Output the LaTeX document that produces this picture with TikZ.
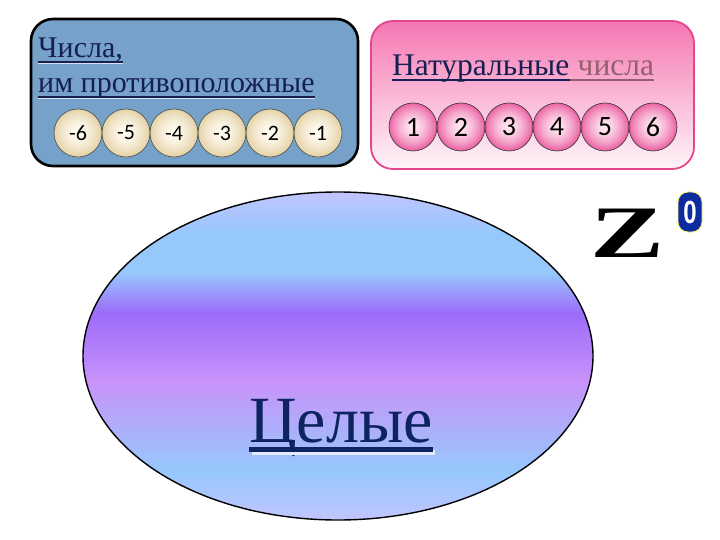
\documentclass[tikz,border=0pt]{standalone}
\usepackage{fontspec}
\setmainfont{Liberation Serif}
\newfontfamily\tnr{Liberation Serif}
\newfontfamily\calibri{Carlito}
\newfontfamily\sansf{Liberation Sans}
\usetikzlibrary{shapes.geometric}

\definecolor{boxblue}{RGB}{118,162,202}
\definecolor{pinktop}{RGB}{245,118,178}
\definecolor{pinkmid}{RGB}{250,188,216}
\definecolor{pinkbot}{RGB}{255,246,250}
\definecolor{pinkedge}{RGB}{228,70,140}
\definecolor{creamin}{RGB}{255,252,242}
\definecolor{creamout}{RGB}{230,212,170}
\definecolor{pinkin}{RGB}{255,232,242}
\definecolor{pinkout}{RGB}{236,105,168}
\definecolor{navy}{RGB}{22,30,82}
\definecolor{mauve}{RGB}{150,95,112}
\definecolor{darknavy}{RGB}{14,36,96}
\definecolor{lav}{RGB}{196,196,255}
\definecolor{lblue}{RGB}{150,200,252}
\definecolor{purp}{RGB}{156,108,250}
\definecolor{lpurp}{RGB}{200,146,250}
\definecolor{zblue}{RGB}{12,44,160}
\definecolor{shadowc}{RGB}{225,235,250}

% vertical colour strips: x0, x1, ya, yb, colour at ya, colour at yb
\newcommand{\vstrips}[6]{%
  \pgfmathtruncatemacro{\nst}{(#4-#3)/2}%
  \foreach \k in {0,...,\nst}{%
    \pgfmathtruncatemacro{\pc}{100*\k/\nst}%
    \fill[#6!\pc!#5] (#1,#3+2*\k) rectangle (#2,#3+2*\k+2.6);%
  }%
}
% ball fill: x, y, inner colour, outer colour
\newcommand{\ballfill}[4]{%
  \foreach \rr in {24,22,...,2}{%
    \pgfmathtruncatemacro{\pc}{100*(\rr/24)^1.6}%
    \fill[#4!\pc!#3] (#1,#2) circle[radius=\rr];%
  }%
}

\tikzset{
  negc/.style={circle, draw=black!70, line width=0.6pt, minimum size=48pt, inner sep=0pt,
    font=\calibri\fontsize{22}{22}\selectfont},
  posc/.style={circle, draw=black!80, line width=0.6pt, minimum size=48pt, inner sep=0pt,
    font=\calibri\fontsize{28}{28}\selectfont},
  ttl/.style={anchor=base west, inner sep=0pt, font=\tnr\fontsize{30}{30}\selectfont},
  ttlr/.style={anchor=base west, inner sep=0pt, font=\tnr\fontsize{31.5}{31.5}\selectfont},
  ul/.style={line width=1.4pt},
}

\begin{document}
\begin{tikzpicture}[x=1pt,y=-1pt]
\useasboundingbox (0,0) rectangle (720,540);

% left box
\draw[fill=boxblue, draw=black, line width=2.6pt, rounded corners=22pt] (31,19) rectangle (358,166);
% right box
\begin{scope}
\clip[rounded corners=22pt] (371,21) rectangle (694,169);
\vstrips{370}{695}{20}{100}{pinktop}{pinkmid}
\vstrips{370}{695}{100}{170}{pinkmid}{pinkbot}
\end{scope}
\draw[draw=pinkedge, line width=1.8pt, rounded corners=22pt] (371,21) rectangle (694,169);

% left titles
\node[ttl, text=navy] (t1) at (38,58) {Числа,};
\draw[ul, white!70!boxblue] ([yshift=-5.5pt]t1.base west) -- ([yshift=-5.5pt]t1.base east);
\draw[ul, navy] ([yshift=-4pt]t1.base west) -- ([yshift=-4pt]t1.base east);
\node[ttl, text=navy] (t2) at (38,93) {им противоположные};
\draw[ul, white!70!boxblue] ([yshift=-5.5pt]t2.base west) -- ([yshift=-5.5pt]t2.base east);
\draw[ul, navy] ([yshift=-4pt]t2.base west) -- ([yshift=-4pt]t2.base east);

% right title
\node[ttlr, text=navy] (nat) at (392,76) {Натуральные};
\node[ttlr, text=mauve] (chis) at ([xshift=8pt]nat.base east) {числа};
\draw[ul, navy] ([yshift=-4pt]nat.base west) -- ([yshift=-4pt]nat.base east);
\draw[ul, mauve] ([yshift=-4pt]nat.base east) -- ([yshift=-4pt]chis.base east);

% negative circles
\foreach \cx in {78,126,174,222,270,318} {\ballfill{\cx}{133}{creamin}{creamout}}
\node[negc] (m6) at (78,133) {-6};
\node[negc] (m5) at (126,133) {-5};
\node[negc] (m4) at (174,133) {-4};
\node[negc] (m3) at (222,133) {-3};
\node[negc] (m2) at (270,133) {-2};
\node[negc] (m1) at (318,133) {-1};

% positive circles
\foreach \cx in {413,461,509,557,605,653} {\ballfill{\cx}{127}{pinkin}{pinkout}}
\node[posc] (p1) at (413,127) {1};
\node[posc] (p2) at (461,127) {2};
\node[posc] (p3) at (509,127) {3};
\node[posc] (p4) at (557,127) {4};
\node[posc] (p5) at (605,127) {5};
\node[posc] (p6) at (653,127) {6};

% ellipse
\begin{scope}
\clip (338,356) ellipse [x radius=255, y radius=164];
\vstrips{82}{595}{190}{232}{lav}{lblue}
\vstrips{82}{595}{232}{272}{lblue}{lblue}
\vstrips{82}{595}{272}{312}{lblue}{purp}
\vstrips{82}{595}{312}{380}{purp}{lpurp}
\vstrips{82}{595}{380}{470}{lpurp}{lblue}
\vstrips{82}{595}{470}{522}{lblue}{lav}
\end{scope}
\node[ellipse, draw=black, line width=1.4pt, minimum width=510pt, minimum height=328pt] (ell) at (338,356) {};

% Целые
\node[anchor=base west, inner sep=0pt, text=darknavy, font=\tnr\fontsize{66}{66}\selectfont] (cel) at (249,442) {Целые};
\draw[line width=5pt, shadowc] ([yshift=-10pt,xshift=2.5pt]cel.base west) -- ([yshift=-10pt,xshift=2.5pt]cel.base east);
\draw[line width=5pt, darknavy] ([yshift=-7.5pt]cel.base west) -- ([yshift=-7.5pt]cel.base east);

% Z
\node[anchor=base, inner sep=0pt, xscale=1.5, font=\tnr\bfseries\fontsize{74}{74}\selectfont] (z) at (628,257) {Z};
% superscript 0
\node[draw=yellow!60!white, line width=0.8pt, fill=zblue, rounded corners=10pt, minimum width=32pt, minimum height=40pt, inner sep=0pt, text=white, font=\sansf\bfseries\fontsize{32}{32}\selectfont, xscale=0.75] (zero) at (690,212) {0};

\end{tikzpicture}
\end{document}
